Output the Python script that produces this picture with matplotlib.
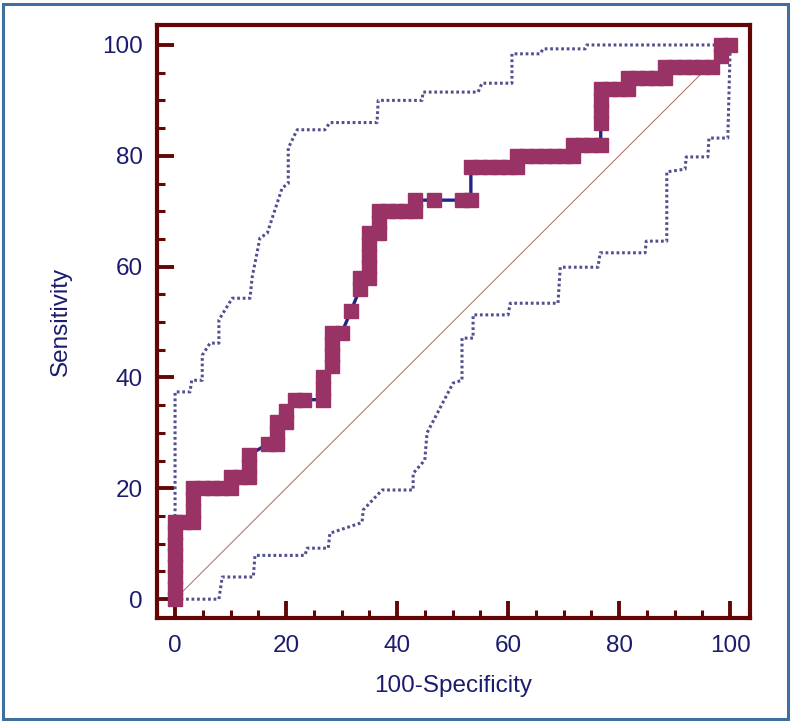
"""
ROC-кривая в стиле MedCalc: ступенчатая кривая с квадратными маркерами,
пунктирные границы доверительного интервала и диагональ случайного классификатора.
"""

import matplotlib

matplotlib.use("Agg")
import matplotlib.pyplot as plt
from matplotlib.patches import Rectangle
from matplotlib.ticker import MultipleLocator

# Точки ROC-кривой (100-Specificity, Sensitivity)
roc_fpr = [
    0, 0, 0, 0, 0, 0, 0, 0,
    1.7, 3.3, 3.3, 3.3, 3.3,
    5, 6.7, 8.3, 10, 10,
    11.7, 13.3, 13.3, 13.3,
    16.7, 18.3, 18.3, 18.3,
    20, 20,
    21.7, 23.3,
    26.7, 26.7, 26.7,
    28.3, 28.3, 28.3, 28.3,
    30, 31.7,
    33.3, 33.3,
    35, 35, 35, 35, 35,
    36.7, 36.7, 36.7,
    38.3, 40, 41.7, 43.3, 43.3,
    46.7, 51.7, 53.3, 53.3,
    55, 56.7, 58.3, 60, 61.7,
    61.7, 63.3, 65, 66.7, 68.3, 70, 71.7,
    71.7, 73.3, 75, 76.7,
    76.7, 76.7, 76.7, 76.7,
    78.3, 80, 81.7,
    81.7, 83.3, 85, 86.7, 88.3,
    88.3, 90, 91.7, 93.3, 95, 96.7,
    98.3, 98.3, 100,
]
roc_tpr = [
    0, 2, 4, 6, 8, 10, 12, 14,
    14, 14, 16, 18, 20,
    20, 20, 20, 20, 22,
    22, 22, 24, 26,
    28, 28, 30, 32,
    32, 34,
    36, 36,
    36, 38, 40,
    42, 44, 46, 48,
    48, 52,
    56, 58,
    58, 60, 62, 64, 66,
    66, 68, 70,
    70, 70, 70, 70, 72,
    72, 72, 72, 78,
    78, 78, 78, 78, 78,
    80, 80, 80, 80, 80, 80, 80,
    82, 82, 82, 82,
    86, 88, 90, 92,
    92, 92, 92,
    94, 94, 94, 94, 94,
    96, 96, 96, 96, 96, 96,
    98, 100, 100,
]

# Верхняя граница 95% доверительного интервала
upper_ci_x = [
    0, 0, 2.7, 3.0, 4.9, 4.9, 6.3, 7.9, 7.9, 10.3, 13.5, 13.9, 15.3, 16.6,
    19.3, 20.4, 20.4, 22.0, 27.0, 27.9, 36.4, 36.6, 44.5, 44.7, 54.6, 55.3,
    60.7, 60.7, 65.8, 66.3, 73.9, 74.2, 100,
]
upper_ci_y = [
    0, 37.4, 37.4, 39.5, 39.5, 44.0, 46.2, 46.2, 50.4, 54.3, 54.3, 58.1, 65.2, 66.0,
    74.2, 75.0, 81.4, 84.7, 84.7, 86.0, 86.0, 90.0, 90.0, 91.5, 91.5, 93.1,
    93.1, 98.4, 98.4, 99.3, 99.3, 100, 100,
]

# Нижняя граница 95% доверительного интервала
lower_ci_x = [
    0, 7.9, 8.5, 14.1, 14.4, 23.4, 23.8, 27.6, 27.9, 33.3, 33.7, 33.9, 37.3,
    42.9, 42.9, 45.0, 45.4, 50.1, 51.7, 51.7, 53.7, 53.7, 60.0, 60.4, 69.0,
    69.4, 76.2, 76.6, 84.7, 84.9, 88.6, 88.6, 91.9, 92.1, 96.0, 96.2, 99.6,
    100, 100,
]
lower_ci_y = [
    0, 0, 4.0, 4.0, 7.9, 7.9, 9.2, 9.2, 11.9, 13.7, 13.9, 16.1, 19.7,
    19.7, 22.7, 25.1, 30.0, 39.0, 39.5, 47.1, 47.1, 51.3, 51.3, 53.4, 53.4,
    59.9, 59.9, 62.5, 62.5, 64.6, 64.6, 77.1, 77.6, 79.8, 79.8, 83.2, 83.2,
    98.6, 100,
]

# Диагональ (AUC = 0.5)
diag_x = [0, 100]
diag_y = [0, 100]

x_ticks = [0, 20, 40, 60, 80, 100]
y_ticks = [0, 20, 40, 60, 80, 100]

# Цвета
SPINE_COLOR = "#640606"
TEXT_COLOR = "#1c1c6e"
MARKER_COLOR = "#993366"
LINE_COLOR = "#23238c"
CI_COLOR = "#50508f"
DIAG_COLOR = "#b06a5a"
FRAME_COLOR = "#3f6f9c"

plt.rcParams["font.family"] = ["Liberation Sans", "DejaVu Sans"]

fig = plt.figure(figsize=(7.91, 7.23), dpi=100)
ax = fig.add_axes([0.1985, 0.1452, 0.7497, 0.8202])

# Диагональ и доверительные интервалы
ax.plot(diag_x, diag_y, color=DIAG_COLOR, linewidth=0.7, zorder=1)
ax.plot(upper_ci_x, upper_ci_y, color=CI_COLOR, linewidth=2.2,
        linestyle=(0, (0.9, 0.9)), zorder=2)
ax.plot(lower_ci_x, lower_ci_y, color=CI_COLOR, linewidth=2.2,
        linestyle=(0, (0.9, 0.9)), zorder=2)

# Сама ROC-кривая: линия + квадратные маркеры
ax.plot(roc_fpr, roc_tpr, color=LINE_COLOR, linewidth=2.4, zorder=3)
ax.plot(roc_fpr, roc_tpr, linestyle="none", marker="s", markersize=10,
        markerfacecolor=MARKER_COLOR, markeredgecolor=MARKER_COLOR,
        markeredgewidth=1.0, zorder=4)

ax.set_xlim(-3.25, 103.6)
ax.set_ylim(-3.4, 103.6)

ax.set_xticks(x_ticks)
ax.set_yticks(y_ticks)
ax.xaxis.set_minor_locator(MultipleLocator(5))
ax.yaxis.set_minor_locator(MultipleLocator(5))

ax.tick_params(which="major", direction="in", length=12.5, width=2.8,
               color=SPINE_COLOR, labelsize=17.5, labelcolor=TEXT_COLOR)
ax.tick_params(which="minor", direction="in", length=6, width=2.2,
               color=SPINE_COLOR)
ax.tick_params(axis="x", which="major", pad=12)
ax.tick_params(axis="y", which="major", pad=10)

for spine in ax.spines.values():
    spine.set_color(SPINE_COLOR)
    spine.set_linewidth(3)

ax.set_xlabel("100-Specificity", fontsize=17.5, color=TEXT_COLOR, labelpad=13)
ax.set_ylabel("Sensitivity", fontsize=17.5, color=TEXT_COLOR, labelpad=22)

# Рамка вокруг всей картинки
fig.patches.append(
    Rectangle((0.004, 0.005), 0.992, 0.99, transform=fig.transFigure,
              fill=False, edgecolor=FRAME_COLOR, linewidth=2.2)
)

fig.savefig("out.png", dpi=100, facecolor="white")
plt.close(fig)
